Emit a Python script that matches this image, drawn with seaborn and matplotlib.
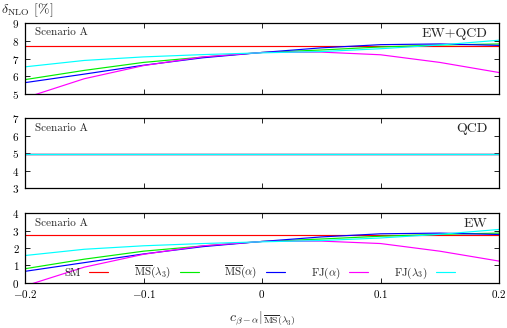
import numpy as np
import pandas as pd
import seaborn as sns
import matplotlib
matplotlib.use("Agg")
import matplotlib.pyplot as plt

# ---------------- data ----------------
c_vals = [-0.2, -0.15, -0.1, -0.05, 0.0, 0.05, 0.1, 0.15, 0.2]

series_names = ["SM", r"$\overline{\rm MS}(\lambda_3)$", r"$\overline{\rm MS}(\alpha)$",
                r"${\rm FJ}(\alpha)$", r"${\rm FJ}(\lambda_3)$"]
series_colors = ["#ff0000", "#00ee00", "#0000ff", "#ff00ff", "#00ffff"]

# EW+QCD panel
tot_sm = [7.71, 7.71, 7.71, 7.71, 7.71, 7.71, 7.71, 7.71, 7.71]
tot_ms_l3 = [5.81, 6.33, 6.78, 7.08, 7.34, 7.48, 7.65, 7.76, 7.82]
tot_ms_a = [5.64, 6.12, 6.62, 7.04, 7.34, 7.60, 7.78, 7.82, 7.74]
tot_fj_a = [4.78, 5.86, 6.60, 7.09, 7.34, 7.36, 7.21, 6.78, 6.21]
tot_fj_l3 = [6.53, 6.89, 7.09, 7.22, 7.32, 7.39, 7.55, 7.76, 8.03]

# QCD panel
qcd_sm = [4.96] * 9
qcd_ms_l3 = [4.96] * 9
qcd_ms_a = [4.96] * 9
qcd_fj_a = [4.96] * 9
qcd_fj_l3 = [4.96] * 9

# EW panel
ew_sm = [2.76, 2.76, 2.76, 2.76, 2.76, 2.76, 2.76, 2.76, 2.76]
ew_ms_l3 = [0.81, 1.36, 1.82, 2.12, 2.38, 2.52, 2.68, 2.79, 2.86]
ew_ms_a = [0.66, 1.16, 1.66, 2.08, 2.38, 2.64, 2.82, 2.86, 2.78]
ew_fj_a = [-0.18, 0.90, 1.64, 2.13, 2.38, 2.40, 2.26, 1.82, 1.25]
ew_fj_l3 = [1.57, 1.93, 2.13, 2.26, 2.36, 2.43, 2.58, 2.79, 3.07]

panel_labels = ["EW+QCD", "QCD", "EW"]
panel_ylims = [(5, 9), (3, 7), (0, 4)]
panel_yticks = [[5, 6, 7, 8, 9], [3, 4, 5, 6, 7], [0, 1, 2, 3, 4]]
x_ticks = [-0.2, -0.1, 0.0, 0.1, 0.2]
x_ticklabels = [r"$-0.2$", r"$-0.1$", r"$0$", r"$0.1$", r"$0.2$"]

panels = [
    [tot_sm, tot_ms_l3, tot_ms_a, tot_fj_a, tot_fj_l3],
    [qcd_sm, qcd_ms_l3, qcd_ms_a, qcd_fj_a, qcd_fj_l3],
    [ew_sm, ew_ms_l3, ew_ms_a, ew_fj_a, ew_fj_l3],
]

# ---------------- styling ----------------
sns.set_theme(style="ticks")
plt.rcParams["font.family"] = ["cmr10", "DejaVu Serif"]
plt.rcParams["mathtext.fontset"] = "cm"
plt.rcParams["axes.formatter.use_mathtext"] = True
plt.rcParams["axes.unicode_minus"] = True

W, H = 507, 328
fig = plt.figure(figsize=(W / 100, H / 100), dpi=100)

def frac_box(left, right, top, bottom):
    return [left / W, 1 - bottom / H, (right - left) / W, (bottom - top) / H]

boxes = [frac_box(25, 499, 23, 94), frac_box(25, 499, 118.3, 188.3), frac_box(25, 499, 213.3, 282.8)]
palette = dict(zip(series_names, series_colors))

axes = []
for i, (box, data) in enumerate(zip(boxes, panels)):
    ax = fig.add_axes(box)
    axes.append(ax)
    rows = []
    for name, vals in zip(series_names, data):
        for x, y in zip(c_vals, vals):
            rows.append({"c": x, "delta": y, "series": name})
    df = pd.DataFrame(rows)
    sns.lineplot(data=df, x="c", y="delta", hue="series", hue_order=series_names,
                 palette=palette, ax=ax, linewidth=0.85, legend=(i == 2),
                 estimator=None, sort=True)
    ax.set_xlim(-0.2, 0.2)
    ax.set_ylim(*panel_ylims[i])
    ax.set_yticks(panel_yticks[i])
    ax.set_yticklabels([rf"${t}$" for t in panel_yticks[i]])
    ax.set_xticks(x_ticks)
    if i == 2:
        ax.set_xticklabels(x_ticklabels)
    else:
        ax.set_xticklabels([])
    ax.set_xlabel("")
    ax.set_ylabel("")
    ax.tick_params(direction="in", length=3.5, width=0.6, top=True, right=True,
                   labelsize=8, pad=4, colors="black")
    for sp in ax.spines.values():
        sp.set_linewidth(0.9)
        sp.set_color("black")
        sp.set_visible(True)
    ax.text(0.021, 0.93, "Scenario A", transform=ax.transAxes, ha="left", va="top",
            fontsize=8)
    ax.text(0.975, 0.93, panel_labels[i], transform=ax.transAxes, ha="right", va="top",
            fontsize=10)

ax_b = axes[2]
handles, labels = ax_b.get_legend_handles_labels()
if ax_b.get_legend() is not None:
    ax_b.get_legend().remove()
ax_b.legend(handles, labels, ncol=5, loc="center left", bbox_to_anchor=(0.083, 0.15),
            frameon=False, markerfirst=False, fontsize=8, handlelength=1.7,
            handletextpad=0.8, columnspacing=2.3, borderpad=0, borderaxespad=0)

fig.text(0.002, 1 - 13 / H, r"$\delta_{\rm NLO}$ [%]", ha="left", va="baseline", fontsize=10)
fig.text(262 / W, 1 - 321 / H, r"$c_{\beta-\alpha}|_{\overline{\rm MS}(\lambda_3)}$",
         ha="center", va="baseline", fontsize=10)

fig.savefig("out.png", dpi=100)
